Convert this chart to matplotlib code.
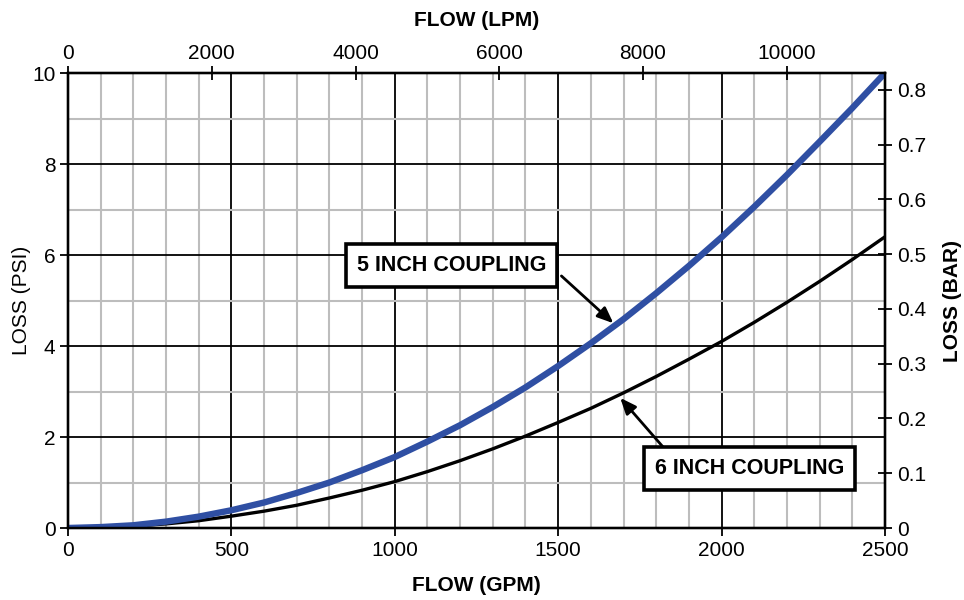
import numpy as np
import matplotlib.pyplot as plt

plt.rcParams['font.family'] = ['Liberation Sans', 'DejaVu Sans']

# flow in GPM, loss in PSI
flow_gpm = [0, 100, 200, 300, 400, 500, 600, 700, 800, 900, 1000, 1100, 1200,
            1300, 1400, 1500, 1600, 1700, 1800, 1900, 2000, 2100, 2200, 2300,
            2400, 2500]
loss_5in = [0, 0.02, 0.06, 0.14, 0.25, 0.39, 0.56, 0.77, 1.00, 1.27, 1.56,
            1.90, 2.26, 2.66, 3.09, 3.56, 4.06, 4.59, 5.16, 5.76, 6.39, 7.06,
            7.76, 8.49, 9.23, 10.0]
loss_6in = [0, 0.01, 0.04, 0.09, 0.16, 0.26, 0.37, 0.50, 0.66, 0.83, 1.02,
            1.24, 1.48, 1.74, 2.02, 2.32, 2.63, 2.97, 3.33, 3.71, 4.10, 4.52,
            4.96, 5.42, 5.90, 6.40]

gpm_ticks = [0, 500, 1000, 1500, 2000, 2500]
psi_ticks = [0, 2, 4, 6, 8, 10]
lpm_ticks = [0, 2000, 4000, 6000, 8000, 10000]
bar_ticks = [0, 0.1, 0.2, 0.3, 0.4, 0.5, 0.6, 0.7, 0.8]
bar_labels = ['0', '0.1', '0.2', '0.3', '0.4', '0.5', '0.6', '0.7', '0.8']

blue = '#2f4fa3'
fs = 15

fig = plt.figure(figsize=(9.64, 6.0), dpi=100)
ax = fig.add_axes([0.0705, 0.12, 0.8475, 0.7583])

ax.set_xlim(0, 2500)
ax.set_ylim(0, 10)
ax.set_xticks(gpm_ticks)
ax.set_yticks(psi_ticks)
ax.set_xticks(np.arange(0, 2501, 100), minor=True)
ax.set_yticks(np.arange(0, 11, 1), minor=True)
ax.grid(which='minor', color='#bdbdbd', lw=1.5, zorder=0)
ax.grid(which='major', color='black', lw=1.3, zorder=1)
ax.set_axisbelow(True)
ax.tick_params(which='minor', length=0)
ax.tick_params(which='major', direction='out', length=6, width=1.3,
               labelsize=fs, pad=3)

ax.plot(flow_gpm, loss_6in, color='black', lw=2.4, zorder=3,
        solid_capstyle='round')
ax.plot(flow_gpm, loss_5in, color=blue, lw=4.6, zorder=4,
        solid_capstyle='round')

for s in ax.spines.values():
    s.set_linewidth(1.6)

ax.set_xlabel('FLOW (GPM)', fontsize=fs, fontweight='bold', labelpad=12)
ax.set_ylabel('LOSS (PSI)', fontsize=fs, labelpad=1)

# top LPM axis
axt = ax.twiny()
axt.set_xlim(0, 11365)
axt.set_xticks(lpm_ticks)
axt.tick_params(direction='inout', length=10, width=1.3, labelsize=fs, pad=2)
axt.set_xlabel('FLOW (LPM)', fontsize=fs, fontweight='bold', labelpad=13)

# right BAR axis
axr = ax.twinx()
axr.set_ylim(0, 0.831)
axr.set_yticks(bar_ticks)
axr.set_yticklabels(bar_labels)
axr.tick_params(direction='inout', length=10, width=1.3, labelsize=fs, pad=4)
axr.set_ylabel('LOSS (BAR)', fontsize=fs, fontweight='bold', labelpad=12)
for a in (axt, axr):
    for s in a.spines.values():
        s.set_linewidth(1.6)

box = dict(boxstyle='square,pad=0.5', fc='white', ec='black', lw=2.6)
ax.text(1175, 5.77, '5 INCH COUPLING', fontsize=15.5, fontweight='bold',
        ha='center', va='center', bbox=box, zorder=6)
ax.text(2086, 1.31, '6 INCH COUPLING', fontsize=15.5, fontweight='bold',
        ha='center', va='center', bbox=box, zorder=6)

arrow = dict(arrowstyle='-|>,head_length=0.6,head_width=0.25',
             color='black', lw=2, mutation_scale=16, shrinkA=0, shrinkB=0)
ax.annotate('', xy=(1669, 4.5), xytext=(1510, 5.54), arrowprops=arrow,
            zorder=5)
ax.annotate('', xy=(1690, 2.86), xytext=(1821, 1.78), arrowprops=arrow,
            zorder=5)

fig.savefig('out.png', dpi=100)
